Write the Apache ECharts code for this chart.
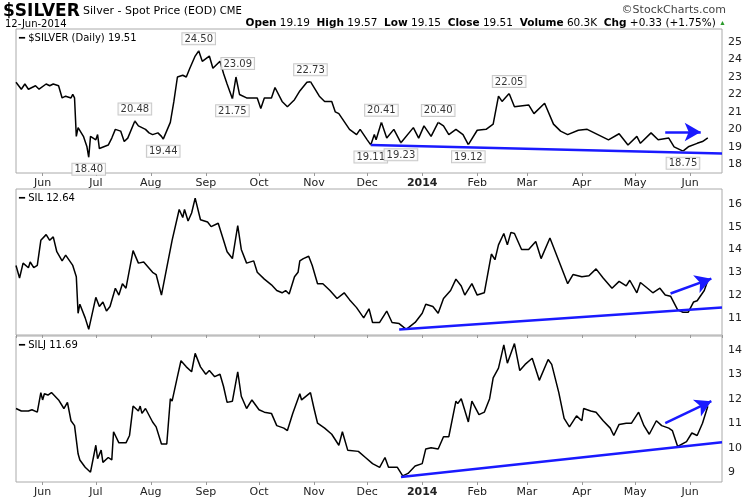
<!DOCTYPE html>
<html>
<head>
<meta charset="utf-8">
<script src="https://cdn.jsdelivr.net/npm/echarts@6/dist/echarts.min.js"></script>
<style>html,body{margin:0;padding:0;background:#fff}#main{width:750px;height:500px}</style>
</head>
<body>
<div id="main"></div>
<script>
// $SILVER daily close
var silverData = [
  ['2013-05-17',22.7],['2013-05-20',22.3],['2013-05-22',22.6],['2013-05-24',22.3],['2013-05-28',22.5],
  ['2013-05-30',22.3],['2013-06-03',22.6],['2013-06-05',22.5],['2013-06-07',22.6],['2013-06-10',22.5],
  ['2013-06-12',21.8],['2013-06-14',21.9],['2013-06-17',21.8],['2013-06-18',22.0],['2013-06-19',21.8],
  ['2013-06-20',19.6],['2013-06-21',20.1],['2013-06-24',19.6],['2013-06-26',19.0],['2013-06-27',18.4],
  ['2013-06-28',19.6],['2013-07-01',19.4],['2013-07-02',19.7],['2013-07-03',18.9],['2013-07-08',19.1],
  ['2013-07-10',19.5],['2013-07-12',20.0],['2013-07-15',19.9],['2013-07-17',19.3],['2013-07-19',19.5],
  ['2013-07-23',20.48],['2013-07-25',20.2],['2013-07-29',20.0],['2013-07-31',19.8],['2013-08-02',19.7],
  ['2013-08-05',19.8],['2013-08-07',19.6],['2013-08-08',19.44],['2013-08-12',20.4],['2013-08-14',21.6],
  ['2013-08-16',23.0],['2013-08-19',23.1],['2013-08-21',23.0],['2013-08-23',23.5],['2013-08-26',24.2],
  ['2013-08-28',24.5],['2013-08-30',23.9],['2013-09-03',24.2],['2013-09-05',23.5],['2013-09-09',23.9],
  ['2013-09-11',23.2],['2013-09-13',22.6],['2013-09-16',21.75],['2013-09-18',23.0],['2013-09-19',23.09],
  ['2013-09-20',22.0],['2013-09-24',21.8],['2013-09-26',21.8],['2013-09-30',21.8],['2013-10-02',21.2],
  ['2013-10-04',21.8],['2013-10-08',21.8],['2013-10-10',22.4],['2013-10-14',21.6],['2013-10-17',21.3],
  ['2013-10-21',21.7],['2013-10-24',22.2],['2013-10-28',22.7],['2013-10-29',22.6],['2013-10-30',22.73],
  ['2013-11-04',21.9],['2013-11-07',21.6],['2013-11-11',21.6],['2013-11-13',21.0],['2013-11-15',20.9],
  ['2013-11-19',20.3],['2013-11-21',20.0],['2013-11-25',19.7],['2013-11-27',20.0],['2013-12-01',19.4],
  ['2013-12-03',19.11],['2013-12-05',19.7],['2013-12-06',19.4],['2013-12-09',20.41],['2013-12-12',19.5],
  ['2013-12-16',20.0],['2013-12-20',19.23],['2013-12-27',20.1],['2013-12-30',19.5],['2014-01-02',20.2],
  ['2014-01-06',19.6],['2014-01-10',20.40],['2014-01-13',20.2],['2014-01-16',19.7],['2014-01-20',20.0],
  ['2014-01-24',19.7],['2014-01-27',19.12],['2014-02-01',19.95],['2014-02-06',20.0],['2014-02-10',20.3],
  ['2014-02-13',21.9],['2014-02-15',21.6],['2014-02-19',22.05],['2014-02-22',21.3],['2014-03-02',21.4],
  ['2014-03-05',20.9],['2014-03-11',21.5],['2014-03-16',20.3],['2014-03-20',19.9],['2014-03-24',19.7],
  ['2014-03-30',19.95],['2014-04-04',20.0],['2014-04-10',19.7],['2014-04-16',19.4],['2014-04-22',19.75],
  ['2014-04-27',19.1],['2014-05-02',19.6],['2014-05-04',19.2],['2014-05-10',19.8],['2014-05-14',19.4],
  ['2014-05-20',19.5],['2014-05-23',19.0],['2014-05-28',18.75],['2014-05-31',19.0],['2014-06-05',19.2],
  ['2014-06-08',19.3],['2014-06-11',19.51]
];

// SIL
var silData = [
  ['2013-05-17',13.3],['2013-05-19',12.75],['2013-05-21',13.4],['2013-05-24',13.2],['2013-05-25',13.45],
  ['2013-05-27',13.2],['2013-05-29',13.3],['2013-05-31',14.4],['2013-06-03',14.65],['2013-06-05',14.4],
  ['2013-06-07',14.55],['2013-06-09',13.9],['2013-06-12',13.5],['2013-06-14',13.75],['2013-06-18',13.3],
  ['2013-06-20',12.8],['2013-06-21',11.2],['2013-06-22',11.6],['2013-06-25',11.0],['2013-06-27',10.5],
  ['2013-07-01',11.9],['2013-07-03',11.5],['2013-07-05',11.7],['2013-07-07',11.3],['2013-07-09',11.5],
  ['2013-07-12',12.3],['2013-07-14',12.0],['2013-07-16',12.5],['2013-07-18',12.3],['2013-07-22',13.95],
  ['2013-07-25',13.4],['2013-07-28',13.45],['2013-08-02',13.0],['2013-08-04',12.9],['2013-08-07',12.0],
  ['2013-08-10',13.2],['2013-08-13',14.4],['2013-08-17',15.75],['2013-08-19',15.4],['2013-08-20',15.75],
  ['2013-08-22',15.25],['2013-08-24',15.6],['2013-08-26',16.25],['2013-08-29',15.3],['2013-09-02',15.2],
  ['2013-09-04',15.0],['2013-09-08',15.15],['2013-09-11',14.4],['2013-09-13',13.9],['2013-09-16',13.6],
  ['2013-09-19',15.05],['2013-09-21',14.0],['2013-09-24',13.4],['2013-09-28',13.5],['2013-09-30',13.0],
  ['2013-10-04',12.7],['2013-10-08',12.45],['2013-10-11',12.2],['2013-10-14',12.1],['2013-10-16',12.2],
  ['2013-10-18',12.05],['2013-10-21',12.8],['2013-10-23',13.0],['2013-10-24',13.5],['2013-10-26',13.6],
  ['2013-10-29',13.7],['2013-10-31',13.3],['2013-11-03',12.5],['2013-11-06',12.5],['2013-11-10',12.2],
  ['2013-11-14',11.85],['2013-11-18',12.1],['2013-11-21',11.8],['2013-11-25',11.45],['2013-11-29',11.0],
  ['2013-12-02',11.4],['2013-12-04',10.8],['2013-12-08',10.8],['2013-12-12',11.3],['2013-12-15',10.8],
  ['2013-12-19',10.75],['2013-12-23',10.5],['2013-12-28',10.8],['2014-01-01',11.2],['2014-01-03',11.6],
  ['2014-01-07',11.5],['2014-01-10',11.2],['2014-01-13',11.85],['2014-01-17',12.2],['2014-01-20',12.7],
  ['2014-01-23',12.4],['2014-01-25',12.0],['2014-01-29',12.5],['2014-02-01',12.0],['2014-02-05',12.1],
  ['2014-02-09',13.8],['2014-02-11',13.55],['2014-02-13',14.2],['2014-02-16',14.7],['2014-02-18',14.2],
  ['2014-02-20',14.75],['2014-02-22',14.7],['2014-02-26',14.0],['2014-03-02',14.0],['2014-03-06',14.35],
  ['2014-03-09',13.6],['2014-03-14',14.5],['2014-03-18',13.7],['2014-03-22',12.9],['2014-03-24',12.5],
  ['2014-03-27',12.9],['2014-04-01',12.8],['2014-04-05',12.85],['2014-04-09',13.15],['2014-04-13',12.75],
  ['2014-04-18',12.3],['2014-04-22',12.6],['2014-04-26',12.4],['2014-04-28',12.65],['2014-05-02',12.1],
  ['2014-05-04',12.55],['2014-05-08',12.3],['2014-05-11',12.1],['2014-05-15',12.3],['2014-05-18',12.0],
  ['2014-05-21',11.95],['2014-05-25',11.35],['2014-05-28',11.25],['2014-05-31',11.25],['2014-06-03',11.7],
  ['2014-06-05',11.75],['2014-06-09',12.2],['2014-06-11',12.64]
];

// SILJ
var siljData = [
  ['2013-05-17',11.6],['2013-05-20',11.5],['2013-05-24',11.5],['2013-05-26',11.55],['2013-05-29',11.45],
  ['2013-05-31',12.25],['2013-06-01',11.95],['2013-06-02',12.2],['2013-06-04',12.15],['2013-06-06',12.25],
  ['2013-06-10',11.95],['2013-06-13',11.6],['2013-06-15',11.85],['2013-06-17',11.1],['2013-06-19',10.9],
  ['2013-06-21',9.75],['2013-06-22',9.5],['2013-06-25',9.2],['2013-06-28',9.0],['2013-07-01',10.1],
  ['2013-07-02',9.55],['2013-07-04',9.9],['2013-07-05',9.4],['2013-07-08',9.6],['2013-07-10',9.5],
  ['2013-07-11',10.65],['2013-07-14',10.2],['2013-07-18',10.2],['2013-07-20',10.5],['2013-07-22',11.7],
  ['2013-07-25',11.5],['2013-07-26',11.7],['2013-07-27',11.4],['2013-07-29',11.6],['2013-08-02',11.05],
  ['2013-08-04',10.85],['2013-08-07',10.15],['2013-08-10',10.15],['2013-08-12',12.0],['2013-08-13',11.9],
  ['2013-08-16',12.9],['2013-08-18',13.55],['2013-08-21',13.3],['2013-08-24',13.1],['2013-08-26',13.85],
  ['2013-08-29',13.3],['2013-09-01',13.0],['2013-09-03',13.15],['2013-09-06',12.9],['2013-09-09',13.0],
  ['2013-09-11',12.5],['2013-09-13',11.85],['2013-09-16',11.9],['2013-09-19',13.1],['2013-09-21',12.1],
  ['2013-09-24',11.6],['2013-09-27',11.95],['2013-10-01',11.55],['2013-10-04',11.45],['2013-10-08',11.4],
  ['2013-10-11',10.9],['2013-10-15',10.8],['2013-10-17',10.7],['2013-10-20',11.4],['2013-10-24',12.2],
  ['2013-10-25',11.95],['2013-10-30',12.25],['2013-11-01',11.6],['2013-11-03',11.0],['2013-11-07',10.8],
  ['2013-11-11',10.55],['2013-11-15',10.1],['2013-11-17',10.65],['2013-11-20',9.9],['2013-11-26',9.85],
  ['2013-11-30',9.6],['2013-12-04',9.35],['2013-12-08',9.2],['2013-12-11',9.6],['2013-12-13',9.2],
  ['2013-12-18',9.2],['2013-12-21',8.85],['2013-12-24',8.95],['2013-12-28',9.25],['2014-01-01',9.35],
  ['2014-01-03',9.95],['2014-01-06',10.0],['2014-01-10',9.95],['2014-01-13',10.45],['2014-01-16',10.45],
  ['2014-01-20',11.9],['2014-01-21',11.8],['2014-01-23',12.0],['2014-01-27',11.05],['2014-01-29',11.9],
  ['2014-02-02',11.35],['2014-02-05',11.45],['2014-02-08',12.0],['2014-02-10',12.85],['2014-02-13',13.25],
  ['2014-02-16',14.2],['2014-02-18',13.45],['2014-02-22',14.25],['2014-02-25',13.15],['2014-02-28',13.4],
  ['2014-03-04',13.65],['2014-03-08',12.75],['2014-03-13',13.6],['2014-03-15',13.4],['2014-03-19',12.25],
  ['2014-03-22',11.2],['2014-03-25',10.85],['2014-03-29',11.3],['2014-04-01',11.1],['2014-04-02',11.6],
  ['2014-04-06',11.5],['2014-04-09',11.45],['2014-04-13',11.1],['2014-04-17',10.8],['2014-04-19',10.5],
  ['2014-04-22',10.95],['2014-04-26',11.0],['2014-04-29',11.0],['2014-05-03',11.45],['2014-05-06',10.9],
  ['2014-05-09',10.55],['2014-05-13',11.1],['2014-05-16',10.9],['2014-05-20',10.8],['2014-05-22',10.7],
  ['2014-05-25',10.05],['2014-05-30',10.25],['2014-06-02',10.6],['2014-06-05',10.5],['2014-06-08',11.0],
  ['2014-06-11',11.69]
];

// boxed price labels on the $SILVER panel: [date, value, side]
var silverNotes = [
  ['2013-06-27',18.40,'bottom'],['2013-07-23',20.48,'top'],['2013-08-08',19.44,'bottom'],
  ['2013-08-28',24.50,'top'],['2013-09-19',23.09,'top'],['2013-09-16',21.75,'bottom'],
  ['2013-10-30',22.73,'top'],['2013-12-03',19.11,'bottom'],['2013-12-09',20.41,'top'],
  ['2013-12-20',19.23,'bottom'],['2014-01-10',20.40,'top'],['2014-01-27',19.12,'bottom'],
  ['2014-02-19',22.05,'top'],['2014-05-28',18.75,'bottom']
];

// hand-drawn trend lines and arrows
var silverTrend = [['2013-12-03',19.11],['2014-06-19',18.62]];
var silverArrow = [['2014-05-18',19.85],['2014-06-07',19.85]];
var silTrend = [['2013-12-19',10.49],['2014-06-19',11.46]];
var silArrow = [['2014-05-21',12.07],['2014-06-13',12.72]];
var siljTrend = [['2013-12-20',8.80],['2014-06-19',10.22]];
var siljArrow = [['2014-05-18',11.0],['2014-06-13',11.9]];

var monthNames = ['Jan','Feb','Mar','Apr','May','Jun','Jul','Aug','Sep','Oct','Nov','Dec'];
var FONT = 'DejaVu Sans';

function xAxis(idx, showLabel) {
  return {
    type: 'time', gridIndex: idx,
    min: '2013-05-17', max: '2014-06-19',
    splitNumber: 13,
    minInterval: 28 * 86400000,
    axisLine: { show: false },
    axisTick: { show: true, length: 3, lineStyle: { color: '#999' } },
    splitLine: { show: false },
    axisLabel: {
      show: showLabel, margin: 5, fontFamily: FONT, fontSize: 11, color: '#222',
      formatter: function (v) {
        var d = new Date(v);
        if (d.getMonth() === 0) return '{b|' + d.getFullYear() + '}';
        return monthNames[d.getMonth()];
      },
      rich: { b: { fontWeight: 'bold', fontFamily: FONT, fontSize: 11, color: '#222' } }
    }
  };
}

function yAxis(idx, min, max, step) {
  return {
    type: 'value', gridIndex: idx, position: 'right',
    min: min, max: max, interval: step,
    axisLine: { show: false }, axisTick: { show: false }, splitLine: { show: false },
    axisLabel: {
      margin: 6, fontFamily: FONT, fontSize: 11, color: '#222',
      formatter: function (v) { return Math.abs(v - Math.round(v)) < 1e-6 ? Math.round(v) : ''; }
    }
  };
}

function priceLine(idx, data, trend, arrow) {
  return {
    type: 'line', xAxisIndex: idx, yAxisIndex: idx, data: data,
    showSymbol: false, symbol: 'none', animation: false,
    lineStyle: { color: '#000', width: 1.5 },
    markLine: {
      silent: true, animation: false, label: { show: false },
      data: [
        [{ coord: trend[0], symbol: 'none' }, { coord: trend[1], symbol: 'none',
          lineStyle: { color: '#1a1aff', width: 2.5, type: 'solid' } }],
        [{ coord: arrow[0], symbol: 'none' }, { coord: arrow[1], symbol: 'arrow', symbolSize: [14, 16],
          lineStyle: { color: '#1a1aff', width: 2.5, type: 'solid' } }]
      ],
      lineStyle: { color: '#1a1aff', width: 2.5, type: 'solid' }
    }
  };
}

var grids = [
  { left: 16, right: 28, top: 29, height: 144 },
  { left: 16, right: 28, top: 189, height: 146 },
  { left: 16, right: 28, top: 336, height: 146 }
];
grids.forEach(function (g) { g.show = true; g.borderColor = '#aaa'; g.borderWidth = 1; g.backgroundColor = '#fff'; });

var chart = echarts.init(document.getElementById('main'));
var option = {
  backgroundColor: '#fff',
  animation: false,
  grid: grids,
  xAxis: [xAxis(0, true), xAxis(1, false), xAxis(2, true)],
  yAxis: [yAxis(0, 17.5, 25.75, 0.5), yAxis(1, 10.25, 16.65, 0.25), yAxis(2, 8.6, 14.56, 0.2)],
  series: [
    priceLine(0, silverData, silverTrend, silverArrow),
    priceLine(1, silData, silTrend, silArrow),
    priceLine(2, siljData, siljTrend, siljArrow),
    {
      type: 'scatter', xAxisIndex: 0, yAxisIndex: 0, z: 5,
      symbol: 'circle', symbolSize: 1, itemStyle: { color: '#ccc' },
      data: silverNotes.map(function (n) {
        return {
          value: [n[0], n[1]],
          label: {
            show: true, position: n[2], distance: 6,
            formatter: n[1].toFixed(2),
            fontFamily: FONT, fontSize: 10, color: '#000',
            backgroundColor: '#fff', borderColor: '#bbb', borderWidth: 1, padding: [1, 2, 0, 2]
          }
        };
      })
    }
  ],
  graphic: [
    { type: 'text', left: 3, top: 3, style: { text: '{a|$SILVER} {b|Silver - Spot Price (EOD)} {c|CME}',
      rich: { a: { fontFamily: FONT, fontWeight: 'bold', fontSize: 17, fill: '#000' },
              b: { fontFamily: FONT, fontSize: 11, fill: '#000' },
              c: { fontFamily: FONT, fontSize: 10, fill: '#000' } } } },
    { type: 'text', left: 5, top: 19, style: { text: '12-Jun-2014', fontFamily: FONT, fontSize: 10, fill: '#000' } },
    { type: 'text', right: 24, top: 5, style: { text: '©StockCharts.com', fontFamily: FONT, fontSize: 11, fill: '#444' } },
    { type: 'text', right: 24, top: 18, style: {
      text: '{k|Open} 19.19  {k|High} 19.57  {k|Low} 19.15  {k|Close} 19.51  {k|Volume} 60.3K  {k|Chg} +0.33 (+1.75%) {g|▲}',
      fontFamily: FONT, fontSize: 10.5, fill: '#000',
      rich: { k: { fontFamily: FONT, fontWeight: 'bold', fontSize: 10.5, fill: '#000' },
              g: { fontSize: 7, fill: '#2a9a2a' } } } },
    { type: 'text', left: 19, top: 33, style: { text: '━ $SILVER (Daily) 19.51', fontFamily: FONT, fontSize: 10, fill: '#000' } },
    { type: 'text', left: 19, top: 193, style: { text: '━ SIL 12.64', fontFamily: FONT, fontSize: 10, fill: '#000' } },
    { type: 'text', left: 19, top: 340, style: { text: '━ SILJ 11.69', fontFamily: FONT, fontSize: 10, fill: '#000' } }
  ]
};
chart.setOption(option);
</script>
</body>
</html>
